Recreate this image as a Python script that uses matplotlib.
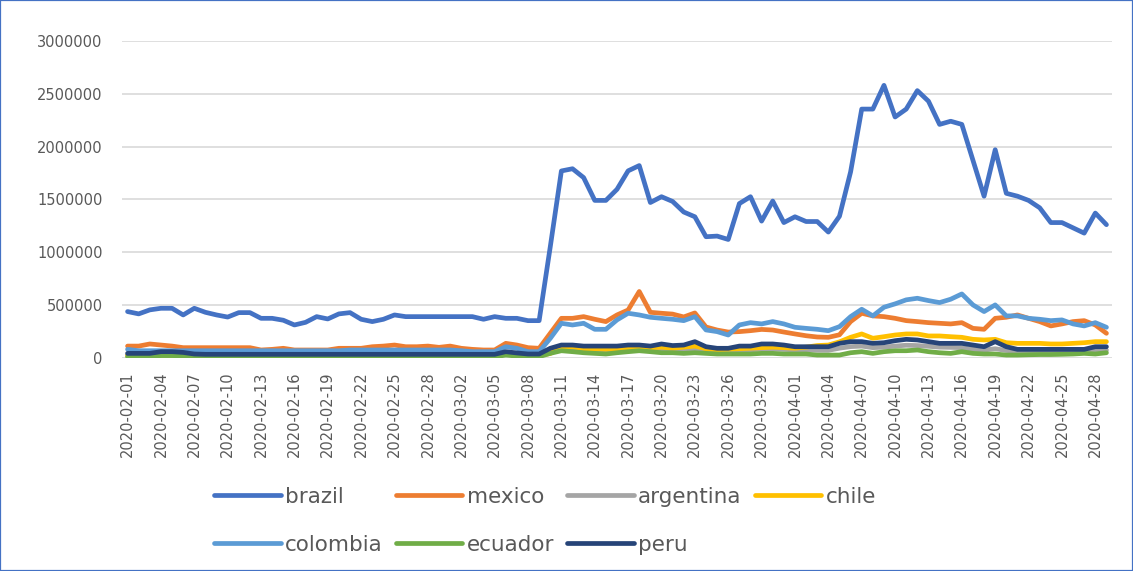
import matplotlib
matplotlib.use('Agg')
import matplotlib.pyplot as plt
from matplotlib.patches import Rectangle
import numpy as np
import pandas as pd

dates = pd.date_range('2020-02-01', '2020-04-29').strftime('%Y-%m-%d').tolist()

brazil = [437000, 415000, 453000, 468000, 468000, 405000, 468000, 430000, 405000, 385000,
          427000, 427000, 373000, 373000, 355000, 310000, 335000, 389000, 367000, 415000,
          427000, 364000, 342000, 364000, 405000, 389000, 389000, 389000, 389000, 389000,
          389000, 389000, 364000, 389000, 373000, 373000, 351000, 351000, 1050000, 1769000,
          1790000, 1706000, 1490000, 1490000, 1595000, 1770000, 1820000, 1470000, 1525000, 1480000,
          1380000, 1335000, 1146000, 1152000, 1120000, 1460000, 1525000, 1294000, 1484000, 1280000,
          1335000, 1290000, 1290000, 1190000, 1340000, 1760000, 2355000, 2355000, 2580000, 2280000,
          2355000, 2530000, 2430000, 2210000, 2240000, 2210000, 1870000, 1530000, 1970000, 1557000,
          1530000, 1490000, 1420000, 1280000, 1280000, 1230000, 1180000, 1370000, 1260000]

mexico = [110000, 110000, 130000, 120000, 110000, 95000, 95000, 95000, 95000, 95000,
          95000, 95000, 73000, 79000, 89000, 73000, 73000, 73000, 73000, 89000,
          89000, 89000, 104000, 110000, 120000, 104000, 104000, 110000, 98000, 110000,
          89000, 79000, 73000, 73000, 136000, 120000, 95000, 89000, 231000, 373000,
          373000, 389000, 364000, 342000, 405000, 452000, 627000, 430000, 421000, 413000,
          386000, 424000, 291000, 262000, 243000, 247000, 256000, 268000, 262000, 243000,
          225000, 208000, 196000, 193000, 217000, 342000, 421000, 396000, 389000, 373000,
          351000, 342000, 332000, 326000, 320000, 332000, 278000, 269000, 373000, 383000,
          405000, 373000, 342000, 301000, 320000, 342000, 351000, 310000, 231000]

argentina = [25000, 25000, 28000, 30000, 30000, 28000, 25000, 25000, 25000, 25000,
             25000, 25000, 25000, 25000, 25000, 25000, 25000, 25000, 25000, 25000,
             25000, 25000, 25000, 25000, 25000, 25000, 25000, 25000, 25000, 25000,
             25000, 25000, 25000, 25000, 40000, 30000, 25000, 25000, 50000, 75000,
             80000, 75000, 72000, 72000, 75000, 80000, 82000, 78000, 80000, 76000,
             78000, 85000, 72000, 68000, 68000, 72000, 75000, 80000, 82000, 78000,
             75000, 75000, 70000, 70000, 90000, 105000, 110000, 95000, 100000, 110000,
             118000, 115000, 108000, 100000, 98000, 95000, 80000, 72000, 85000, 68000,
             62000, 62000, 60000, 60000, 62000, 62000, 65000, 70000, 72000]

chile = [20000, 20000, 22000, 25000, 25000, 22000, 20000, 20000, 20000, 20000,
         20000, 20000, 20000, 20000, 20000, 20000, 20000, 20000, 20000, 20000,
         20000, 20000, 20000, 20000, 20000, 20000, 20000, 20000, 20000, 20000,
         20000, 20000, 20000, 20000, 40000, 30000, 20000, 20000, 40000, 100000,
         105000, 85000, 85000, 80000, 85000, 95000, 90000, 95000, 100000, 90000,
         100000, 110000, 85000, 75000, 80000, 85000, 90000, 95000, 100000, 95000,
         90000, 100000, 115000, 120000, 150000, 193000, 225000, 184000, 199000, 215000,
         225000, 225000, 206000, 206000, 199000, 193000, 174000, 168000, 174000, 142000,
         136000, 136000, 136000, 130000, 130000, 136000, 142000, 152000, 152000]

colombia = [79000, 66000, 66000, 66000, 66000, 66000, 66000, 66000, 66000, 66000,
            66000, 66000, 66000, 66000, 66000, 66000, 66000, 66000, 66000, 66000,
            73000, 73000, 73000, 73000, 73000, 73000, 73000, 73000, 73000, 73000,
            66000, 57000, 57000, 57000, 104000, 89000, 57000, 57000, 183000, 326000,
            310000, 326000, 269000, 269000, 358000, 421000, 405000, 383000, 373000, 364000,
            351000, 389000, 263000, 247000, 215000, 310000, 332000, 320000, 342000, 320000,
            288000, 278000, 269000, 256000, 294000, 389000, 459000, 396000, 478000, 510000,
            548000, 563000, 541000, 522000, 554000, 604000, 500000, 437000, 500000, 396000,
            396000, 373000, 364000, 351000, 358000, 320000, 301000, 332000, 288000]

ecuador = [8000, 8000, 10000, 20000, 20000, 18000, 8000, 8000, 8000, 8000,
           8000, 8000, 8000, 8000, 8000, 8000, 8000, 8000, 8000, 8000,
           8000, 8000, 8000, 8000, 8000, 8000, 8000, 8000, 8000, 8000,
           8000, 8000, 8000, 8000, 25000, 15000, 8000, 10000, 41000, 66000,
           57000, 47000, 41000, 35000, 47000, 57000, 66000, 57000, 47000, 47000,
           41000, 47000, 41000, 35000, 35000, 35000, 35000, 41000, 41000, 35000,
           35000, 35000, 25000, 25000, 25000, 47000, 57000, 41000, 57000, 66000,
           66000, 73000, 57000, 47000, 41000, 57000, 41000, 35000, 35000, 25000,
           25000, 28000, 30000, 30000, 32000, 35000, 41000, 35000, 47000]

peru = [41000, 41000, 41000, 57000, 57000, 50000, 35000, 32000, 32000, 32000,
        32000, 32000, 32000, 32000, 32000, 32000, 32000, 32000, 32000, 32000,
        32000, 32000, 32000, 32000, 32000, 32000, 32000, 32000, 32000, 32000,
        32000, 32000, 32000, 32000, 57000, 45000, 35000, 35000, 89000, 120000,
        120000, 110000, 110000, 110000, 110000, 120000, 120000, 110000, 130000, 115000,
        120000, 152000, 104000, 89000, 89000, 110000, 110000, 130000, 130000, 120000,
        104000, 104000, 104000, 104000, 136000, 152000, 152000, 136000, 142000, 161000,
        174000, 168000, 152000, 136000, 136000, 136000, 120000, 104000, 152000, 104000,
        79000, 79000, 79000, 79000, 79000, 79000, 79000, 104000, 104000]

countries = ['brazil', 'mexico', 'argentina', 'chile', 'colombia', 'ecuador', 'peru']
series = [brazil, mexico, argentina, chile, colombia, ecuador, peru]
colors = ['#4472C4', '#ED7D31', '#A5A5A5', '#FFC000', '#5B9BD5', '#70AD47', '#264478']

text_color = '#595959'

fig = plt.figure(figsize=(11.33, 5.71), dpi=100)
ax = fig.add_axes([122 / 1133, 1 - 357.7 / 571, 990 / 1133, (357.7 - 41) / 571])

x = np.arange(len(dates))
lines = {}
for name, vals, col in zip(countries, series, colors):
    lines[name], = ax.plot(x, vals, color=col, lw=3.4, label=name,
                           solid_joinstyle='round', solid_capstyle='round')

ax.set_xlim(-0.5, len(dates) - 0.5)
ax.set_ylim(0, 3000000)
ax.set_yticks(np.arange(0, 3000001, 500000))
ax.yaxis.set_major_formatter(lambda v, p: '%d' % v)
ax.set_xticks(x[::3])
ax.set_xticklabels(dates[::3], rotation=90)

ax.grid(axis='y', color='#D9D9D9', lw=1.2)
ax.set_axisbelow(True)
for s in ax.spines.values():
    s.set_visible(False)
ax.tick_params(axis='y', length=0, pad=14, labelsize=10.5, labelcolor=text_color)
ax.tick_params(axis='x', length=0, pad=10, labelsize=10.5, labelcolor=text_color)

# legend rows: brazil mexico argentina chile / colombia ecuador peru
order = ['brazil', 'colombia', 'mexico', 'ecuador', 'argentina', 'peru', 'chile']
fig.legend([lines[n] for n in order], order, loc='center left',
           bbox_to_anchor=(214 / 1133, 0.0876), ncol=4, frameon=False,
           fontsize=15.5, handlelength=3.1, handletextpad=0.2, columnspacing=0.6,
           labelspacing=1.3, borderpad=0, borderaxespad=0, labelcolor=text_color)

fig.patches.append(Rectangle((0, 0), 1, 1, transform=fig.transFigure, fill=False,
                             edgecolor='#4472C4', lw=1.6))

fig.savefig('out.png', dpi=100)
